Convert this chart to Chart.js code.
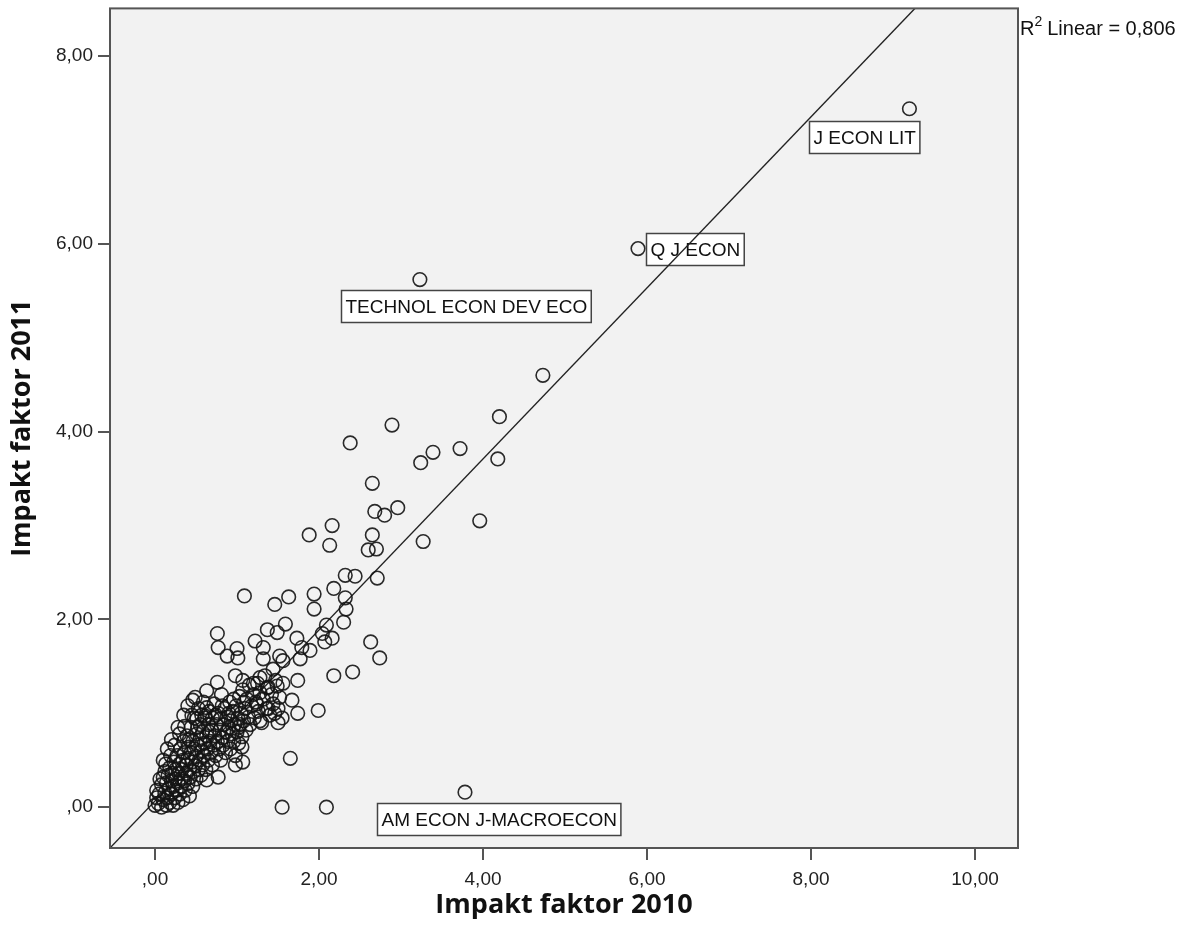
<!DOCTYPE html>
<html>
<head>
<meta charset="utf-8">
<script src="https://cdn.jsdelivr.net/npm/chart.js@4"></script>
<style>
  html, body { margin: 0; padding: 0; background: #ffffff; }
  #wrap { width: 1188px; height: 934px; }
</style>
</head>
<body>
<div id="wrap"><canvas id="ImpactChart" width="1188" height="934"></canvas></div>
<script>
// Impact factor 2010 (x) vs 2011 (y)
let coreJournals = [
    [0.00,0.02],[0.02,0.10],[0.02,0.18],[0.04,0.04],[0.05,0.14],[0.08,0.00],[0.08,0.24],[0.10,0.08],[0.10,0.32],[0.10,0.50],
    [0.12,0.15],[0.12,0.38],[0.14,0.02],[0.14,0.26],[0.15,0.10],[0.15,0.62],[0.16,0.34],[0.17,0.20],[0.18,0.05],[0.18,0.42],
    [0.20,0.14],[0.20,0.28],[0.20,0.72],[0.21,0.36],[0.22,0.02],[0.22,0.22],[0.23,0.48],[0.24,0.10],[0.25,0.30],[0.25,0.40],
    [0.26,0.18],[0.27,0.55],[0.28,0.05],[0.28,0.26],[0.28,0.85],[0.29,0.36],[0.30,0.46],[0.30,0.14],[0.31,0.62],[0.32,0.22],
    [0.32,0.30],[0.33,0.40],[0.34,0.50],[0.34,0.08],[0.35,0.70],[0.35,0.98],[0.36,0.28],[0.36,0.58],[0.37,0.18],[0.38,0.36],
    [0.38,0.45],[0.39,0.76],[0.40,0.52],[0.40,0.25],[0.40,1.08],[0.41,0.64],[0.42,0.12],[0.42,0.40],[0.43,0.32],[0.44,0.58],
    [0.44,0.85],[0.45,0.48],[0.45,0.98],[0.46,0.70],[0.46,0.22],[0.46,1.14],[0.47,0.38],[0.48,0.62],[0.48,0.95],[0.49,0.44],
    [0.50,0.30],[0.50,0.54],[0.51,0.78],[0.51,0.94],[0.52,0.66],[0.53,0.40],[0.53,1.05],[0.54,0.50],[0.55,0.72],[0.55,0.88],
    [0.56,0.34],[0.57,0.60],[0.58,0.45],[0.58,0.80],[0.59,1.12],[0.60,0.55],[0.60,0.68],[0.61,0.95],[0.61,0.97],[0.62,0.40],
    [0.63,0.76],[0.63,1.06],[0.64,0.62],[0.65,0.50],[0.65,0.88],[0.66,1.02],[0.67,0.70],[0.68,0.58],[0.69,0.82],[0.70,0.45],
    [0.70,0.95],[0.71,0.66],[0.72,1.10],[0.73,0.76],[0.74,0.55],[0.75,0.88],[0.76,0.70],[0.77,1.00],[0.78,0.62],[0.79,0.82],
    [0.80,0.50],[0.80,0.94],[0.81,1.20],[0.82,0.74],[0.83,0.66],[0.84,0.88],[0.85,1.05],[0.86,0.58],[0.87,0.80],[0.88,0.96],
    [0.89,0.70],[0.90,0.85],[0.91,1.12],[0.92,0.62],[0.93,0.92],[0.94,0.78],[0.95,1.02],[0.96,0.70],[0.97,0.88],[0.98,0.55],
    [0.99,1.08],[1.00,0.80],[1.01,0.95],[1.02,0.68],[1.03,1.18],[1.04,0.88],[1.05,1.00],[1.06,0.75],[1.07,1.25],[1.08,0.92],
    [1.10,1.05],[1.11,0.82],[1.12,1.15],[1.14,0.96],[1.15,1.30],[1.16,0.88],[1.18,1.08],[1.20,1.20],[1.21,0.95],[1.23,1.12],
    [1.25,1.32],[1.26,1.02],[1.28,1.22],[1.30,0.90],[1.32,1.15],[1.34,1.40],[1.36,1.05],[1.38,1.28],[1.40,0.98],[1.42,1.20],
    [1.44,1.10],[1.47,1.35],[1.50,1.05],
    [0.06,0.30],[0.13,0.46],[0.19,0.55],[0.24,0.66],[0.30,0.78],[0.36,0.86],[0.42,0.72],[0.52,0.85],[0.57,0.98],[0.66,0.80],
    [0.74,0.98],[0.82,1.08],[0.90,1.00],[0.96,1.15],[1.02,0.85],[1.09,1.12]
];

let otherJournals = [
    [4.73,4.60],[4.20,4.16],[2.89,4.07],[2.38,3.88],[3.39,3.78],[3.72,3.82],[3.24,3.67],[4.18,3.71],[2.65,3.45],[2.96,3.19],
    [2.68,3.15],[2.80,3.11],[3.96,3.05],[1.88,2.90],[2.16,3.00],[2.13,2.79],[2.65,2.90],[2.60,2.74],[2.70,2.75],[3.27,2.83],
    [2.32,2.47],[2.44,2.46],[2.71,2.44],[2.18,2.33],[2.32,2.23],[1.94,2.27],[1.94,2.11],[2.33,2.11],[1.63,2.24],[1.46,2.16],
    [1.09,2.25],[2.30,1.97],[2.09,1.94],[2.16,1.80],[2.63,1.76],[2.74,1.59],[2.07,1.76],[2.41,1.44],[2.18,1.40],[1.99,1.03],
    [1.65,0.52],[1.55,0.00],[2.09,0.00],
    [1.59,1.95],[1.37,1.89],[1.49,1.86],[1.22,1.77],[1.00,1.69],[1.01,1.59],[1.32,1.70],[1.52,1.61],[1.56,1.56],[1.73,1.80],
    [1.79,1.70],[1.89,1.67],[2.04,1.85],[1.32,1.58],[1.44,1.47],[1.77,1.58],[1.74,1.35],[1.28,1.38],[1.07,1.35],[1.56,1.32],
    [0.76,1.85],[0.77,1.70],[0.88,1.61],[0.76,1.33],[0.63,1.24],[0.49,1.17],[0.98,1.40],[1.20,1.32],
    [1.37,1.27],[1.49,1.29],[1.52,1.17],[1.67,1.14],[1.46,1.00],[1.55,0.95],[1.38,1.05],[1.28,0.92],[1.24,1.10],[1.50,0.90],
    [1.74,1.00],[1.06,0.64],[0.98,0.45],[1.07,0.48],[0.77,0.32],[0.63,0.29]
];

let labelNames = ["J ECON LIT", "Q J ECON", "TECHNOL ECON DEV ECO", "AM ECON J-MACROECON"];
let labelX = [9.20, 5.89, 3.23, 3.78];
let labelY = [7.44, 5.95, 5.62, 0.16];

let fitLineX = [-0.55, 10.52];
let fitLineY = [-0.435, 9.65];
let rSquareText = "Linear = 0,806";

let xTicks = [0, 2, 4, 6, 8, 10];
let yTicks = [0, 2, 4, 6, 8];

const ink = "#222222";
const frame = "#555555";
const tickFont = {family: "'Liberation Sans', Arial", size: 19};
const titleFont = {family: "'Open Sans'", size: 27, weight: "bold"};

function toPoints(list) {
    return list.map(p => ({x: p[0], y: p[1]}));
}

function commaLabel(value) {
    if (value === 0) return ",00";
    return value.toFixed(2).replace(".", ",");
}

let allJournals = toPoints(coreJournals).concat(toPoints(otherJournals));
labelX.forEach((x, i) => allJournals.push({x: x, y: labelY[i]}));

// box offsets (left, top) from the labelled point, in pixels
const labelOffsets = [[-100, 12], [8, -16], [-79, 10], [-88, 11]];

const spssLook = {
    id: "spssLook",
    beforeDatasetsDraw(chart) {
        const {ctx, chartArea: a, scales} = chart;
        ctx.save();
        ctx.fillStyle = "#f2f2f2";
        ctx.fillRect(a.left, a.top, a.width, a.height);

        ctx.font = "19px 'Liberation Sans', Arial";
        ctx.textBaseline = "middle";
        labelNames.forEach((name, i) => {
            const px = scales.x.getPixelForValue(labelX[i]);
            const py = scales.y.getPixelForValue(labelY[i]);
            const w = ctx.measureText(name).width + 8;
            const bx = Math.round(px + labelOffsets[i][0]) + 0.5;
            const by = Math.round(py + labelOffsets[i][1]) + 0.5;
            ctx.fillStyle = "#ffffff";
            ctx.fillRect(bx, by, w, 32);
            ctx.strokeStyle = "#444444";
            ctx.lineWidth = 1.5;
            ctx.strokeRect(bx, by, w, 32);
            ctx.fillStyle = "#111111";
            ctx.fillText(name, bx + 4, by + 17);
        });
        ctx.restore();
    },
    afterDraw(chart) {
        const {ctx, chartArea: a} = chart;
        ctx.save();
        ctx.strokeStyle = frame;
        ctx.lineWidth = 2;
        ctx.strokeRect(a.left, a.top, a.width, a.height);

        ctx.fillStyle = "#111111";
        ctx.textBaseline = "alphabetic";
        ctx.font = "20px 'Liberation Sans', Arial";
        let x = a.right + 2;
        ctx.fillText("R", x, 35);
        x += ctx.measureText("R").width;
        ctx.font = "14px 'Liberation Sans', Arial";
        ctx.fillText("2", x, 26);
        x += ctx.measureText("2").width + 5;
        ctx.font = "20px 'Liberation Sans', Arial";
        ctx.fillText(rSquareText, x, 35);
        ctx.restore();
    }
};

new Chart("ImpactChart", {
    type: "scatter",
    data: {
        datasets: [{
            data: allJournals,
            pointRadius: 6.8,
            pointHoverRadius: 6.8,
            pointBorderWidth: 1.6,
            pointBorderColor: "rgba(20,20,20,0.9)",
            pointBackgroundColor: "rgba(0,0,0,0)"
        }, {
            type: "line",
            data: fitLineX.map((x, i) => ({x: x, y: fitLineY[i]})),
            borderColor: ink,
            borderWidth: 1.4,
            pointRadius: 0,
            fill: false
        }]
    },
    options: {
        responsive: false,
        animation: false,
        events: [],
        layout: {padding: {left: 0, top: 5, right: 170, bottom: 0}},
        plugins: {
            legend: {display: false},
            tooltip: {enabled: false}
        },
        scales: {
            x: {
                type: "linear",
                min: -0.549,
                max: 10.524,
                afterBuildTicks: s => { s.ticks = xTicks.map(v => ({value: v})); },
                afterFit: s => { s.height = 86; s.paddingLeft = 0; s.paddingRight = 0; },
                border: {display: false},
                grid: {drawOnChartArea: false, drawTicks: true, tickLength: 12, color: frame, lineWidth: 2},
                ticks: {color: ink, font: tickFont, padding: 8, maxRotation: 0, callback: commaLabel},
                title: {display: true, text: "Impakt faktor 2010", color: "#111111", font: titleFont, padding: {top: 0, bottom: 12}}
            },
            y: {
                type: "linear",
                min: -0.435,
                max: 8.509,
                afterBuildTicks: s => { s.ticks = yTicks.map(v => ({value: v})); },
                afterFit: s => { s.width = 110; s.paddingTop = 0; s.paddingBottom = 0; },
                border: {display: false},
                grid: {drawOnChartArea: false, drawTicks: true, tickLength: 12, color: frame, lineWidth: 2},
                ticks: {color: ink, font: tickFont, padding: 5, callback: commaLabel},
                title: {display: true, text: "Impakt faktor 2011", color: "#111111", font: titleFont, padding: {top: 6, bottom: 0}}
            }
        }
    },
    plugins: [spssLook]
});
</script>
</body>
</html>
